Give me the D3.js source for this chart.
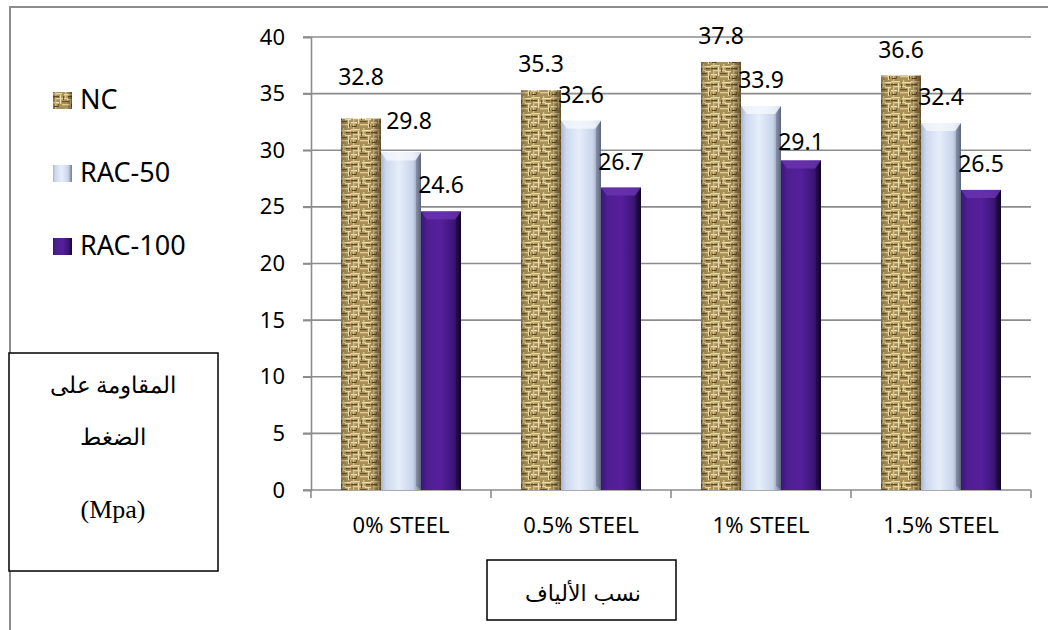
<!DOCTYPE html>
<html>
<head>
<meta charset="utf-8">
<script src="https://cdn.jsdelivr.net/npm/d3@7"></script>
<style>
  html, body { margin: 0; padding: 0; background: #fff; }
  svg { display: block; }
</style>
</head>
<body>
<svg id="chart" width="1048" height="630"></svg>
<script>
// Compressive strength (MPa) by steel-fibre content and aggregate mix
const categories = ["0% STEEL", "0.5% STEEL", "1% STEEL", "1.5% STEEL"];
const seriesNames = ["NC", "RAC-50", "RAC-100"];
const ncValues = [32.8, 35.3, 37.8, 36.6];
const rac50Values = [29.8, 32.6, 33.9, 32.4];
const rac100Values = [24.6, 26.7, 29.1, 26.5];
const yTicks = [0, 5, 10, 15, 20, 25, 30, 35, 40];
const yTitleLines = ["المقاومة على", "الضغط", "(Mpa)"];
const xTitle = "نسب الألياف";

// per-label nudges [dx, dy] for the hand-placed value labels (series x category)
const labelNudge = [
  [[0, -16], [0, 0], [0, 0], [0, 0]],
  [[8, -6], [0, 0], [0, 0], [0, 0]],
  [[0, 0], [0, 0], [0, 8], [0, 0]]
];

const seriesValues = [ncValues, rac50Values, rac100Values];
const sansFont = "'Noto Sans', 'Open Sans', sans-serif";

const svg = d3.select("#chart");
const defs = svg.append("defs");

// ---- fills ----
// woven burlap look for NC
const burlap = defs.append("pattern")
  .attr("id", "burlap").attr("patternUnits", "userSpaceOnUse")
  .attr("width", 20).attr("height", 16);
burlap.append("rect").attr("width", 20).attr("height", 16).attr("fill", "#a98f58");
[
  [0, 1, 9, 1.5, "#e8d8a2"], [11, 2, 9, 1.4, "#efe1ad"], [3, 6, 12, 1.3, "#e4d299"],
  [0, 10, 6, 1.4, "#f2e5b5"], [9, 12, 11, 1.3, "#e0cd92"], [14, 7, 6, 1.2, "#ead9a4"],
  [2, 0, 1.3, 16, "#d7c48b"], [7, 3, 1.2, 9, "#ecdfae"], [12, 0, 1.3, 7, "#dcc990"],
  [17, 8, 1.2, 8, "#e6d6a0"],
  [0, 4, 6, 1.3, "#5f4b27"], [9, 9, 7, 1.2, "#6b5531"], [1, 14, 5, 1, "#5a4422"],
  [15, 4, 4, 1.2, "#644e2a"], [5, 12, 1, 3, "#725c36"], [10, 4, 1, 4, "#6e5833"],
  [18, 12, 1, 3, "#6b5632"]
].forEach(([x, yy, w, h, c]) => {
  burlap.append("rect").attr("x", x).attr("y", yy).attr("width", w).attr("height", h).attr("fill", c);
});

function hGrad(id, stops) {
  const g = defs.append("linearGradient").attr("id", id)
    .attr("x1", "0%").attr("x2", "100%").attr("y1", "0%").attr("y2", "0%");
  stops.forEach(([o, c, a]) => g.append("stop").attr("offset", o).attr("stop-color", c).attr("stop-opacity", a === undefined ? 1 : a));
}
hGrad("ncShade", [["0%", "#3a2a10", 0.35], ["18%", "#3a2a10", 0.0], ["75%", "#3a2a10", 0.0], ["100%", "#2a1c08", 0.6]]);
hGrad("rac50Fill", [["0%", "#a9b6d0"], ["12%", "#cdd8ee"], ["45%", "#e6eefb"], ["80%", "#c9d4ea"], ["100%", "#6f7c98"]]);
hGrad("rac100Fill", [["0%", "#3c1676"], ["15%", "#4e1e92"], ["50%", "#561f9c"], ["82%", "#3c1578"], ["100%", "#140630"]]);

const fills = ["url(#burlap)", "url(#rac50Fill)", "url(#rac100Fill)"];
const bevelColors = ["#cbb77e", "#f4f7fd", "#6a35b0"];

// ---- scales ----
const x0 = d3.scaleBand().domain(categories).range([311, 1031]).padding(0);
const x1 = d3.scaleBand().domain(seriesNames).range([0, x0.bandwidth()])
  .paddingInner(0).paddingOuter(0.75);
const y = d3.scaleLinear().domain([0, 40]).range([490, 37]);

// ---- outer frame ----
svg.append("rect").attr("x", 10).attr("y", 7).attr("width", 1100).attr("height", 700)
  .attr("fill", "none").attr("stroke", "#8c8c8c").attr("stroke-width", 2);

// ---- gridlines ----
svg.append("g").selectAll("line").data(yTicks).join("line")
  .attr("x1", 303).attr("x2", x0.range()[1])
  .attr("y1", d => y(d)).attr("y2", d => y(d))
  .attr("stroke", "#8c8c8c").attr("stroke-width", 1.6);

// ---- y axis ----
const yAxis = svg.append("g").attr("transform", "translate(311,0)")
  .call(d3.axisLeft(y).tickValues(yTicks).tickSize(8).tickPadding(18).tickFormat(d3.format("d")));
yAxis.select(".domain").attr("stroke", "#8c8c8c").attr("stroke-width", 1.6);
yAxis.selectAll(".tick line").attr("stroke", "#8c8c8c").attr("stroke-width", 1.6);
yAxis.selectAll(".tick text").attr("font-family", sansFont)
  .attr("font-size", 22).attr("fill", "#000");

// ---- x axis ----
const xAxis = svg.append("g").attr("transform", "translate(0,490)")
  .call(d3.axisBottom(x0).tickSize(0).tickPadding(0));
xAxis.select(".domain").remove();
xAxis.selectAll(".tick text").attr("y", 43).attr("dy", 0)
  .attr("font-family", sansFont).attr("font-size", 22).attr("fill", "#000");
const boundaries = categories.map(c => x0(c)).concat([x0.range()[1]]);
svg.append("g").selectAll("line").data(boundaries).join("line")
  .attr("x1", d => d).attr("x2", d => d).attr("y1", 490).attr("y2", 498)
  .attr("stroke", "#8c8c8c").attr("stroke-width", 1.6);

// ---- bars ----
const groups = svg.append("g").selectAll("g").data(categories).join("g")
  .attr("transform", d => `translate(${x0(d)},0)`);

groups.each(function (cat, ci) {
  const g = d3.select(this);
  seriesNames.forEach((s, si) => {
    const v = seriesValues[si][ci];
    const bx = x1(s), bw = x1.bandwidth(), top = y(v), h = y(0) - y(v);
    g.append("rect").attr("x", bx).attr("y", top).attr("width", bw).attr("height", h)
      .attr("fill", fills[si]);
    if (si === 0) {
      g.append("rect").attr("x", bx).attr("y", top).attr("width", bw).attr("height", h)
        .attr("fill", "url(#ncShade)");
    } else {
      // bevelled top edge
      g.append("path")
        .attr("d", `M${bx},${top}L${bx + bw},${top}L${bx + bw - 6},${top + 8}L${bx + 6},${top + 8}Z`)
        .attr("fill", bevelColors[si]).attr("opacity", 0.8);
      g.append("path")
        .attr("d", `M${bx + bw},${top}L${bx + bw},${top + h}L${bx + bw - 5},${top + h - 4}L${bx + bw - 5},${top + 8}Z`)
        .attr("fill", "#000").attr("opacity", 0.18);
    }
  });
});

// ---- value labels ----
groups.each(function (cat, ci) {
  const g = d3.select(this);
  seriesNames.forEach((s, si) => {
    const v = seriesValues[si][ci];
    const [dx, dy] = labelNudge[si][ci];
    g.append("text")
      .attr("x", x1(s) + x1.bandwidth() / 2 + dx)
      .attr("y", y(v) - 18 + dy)
      .attr("text-anchor", "middle")
      .attr("font-family", sansFont)
      .attr("font-size", 23).attr("fill", "#000")
      .text(d3.format(".1f")(v));
  });
});

// ---- legend ----
const legend = svg.append("g").selectAll("g").data(seriesNames).join("g")
  .attr("transform", (d, i) => `translate(53,${92 + i * 73})`);
legend.append("rect").attr("width", 19).attr("height", 17)
  .attr("fill", (d, i) => fills[i]);
legend.append("rect").attr("width", 19).attr("height", 17)
  .attr("fill", (d, i) => i === 0 ? "url(#ncShade)" : "none");
legend.append("text").attr("x", 27).attr("y", 17)
  .attr("font-family", sansFont).attr("font-size", 27)
  .attr("fill", "#000").text(d => d);

// ---- axis titles in boxes ----
svg.append("rect").attr("x", 9).attr("y", 353).attr("width", 209).attr("height", 218)
  .attr("fill", "#fff").attr("stroke", "#000").attr("stroke-width", 1.5);
svg.append("g").selectAll("text").data(yTitleLines).join("text")
  .attr("x", 113).attr("y", (d, i) => [393, 445, 518][i])
  .attr("text-anchor", "middle")
  .attr("font-family", "'Liberation Serif', 'DejaVu Serif', serif")
  .attr("font-size", (d, i) => i === 2 ? 26 : 23).attr("fill", "#000").text(d => d);

svg.append("rect").attr("x", 487).attr("y", 560).attr("width", 189).attr("height", 60)
  .attr("fill", "#fff").attr("stroke", "#000").attr("stroke-width", 1.5);
svg.append("text").attr("x", 583).attr("y", 601).attr("text-anchor", "middle")
  .attr("font-family", "'DejaVu Sans', sans-serif").attr("font-size", 22)
  .attr("fill", "#000").text(xTitle);
</script>
</body>
</html>
